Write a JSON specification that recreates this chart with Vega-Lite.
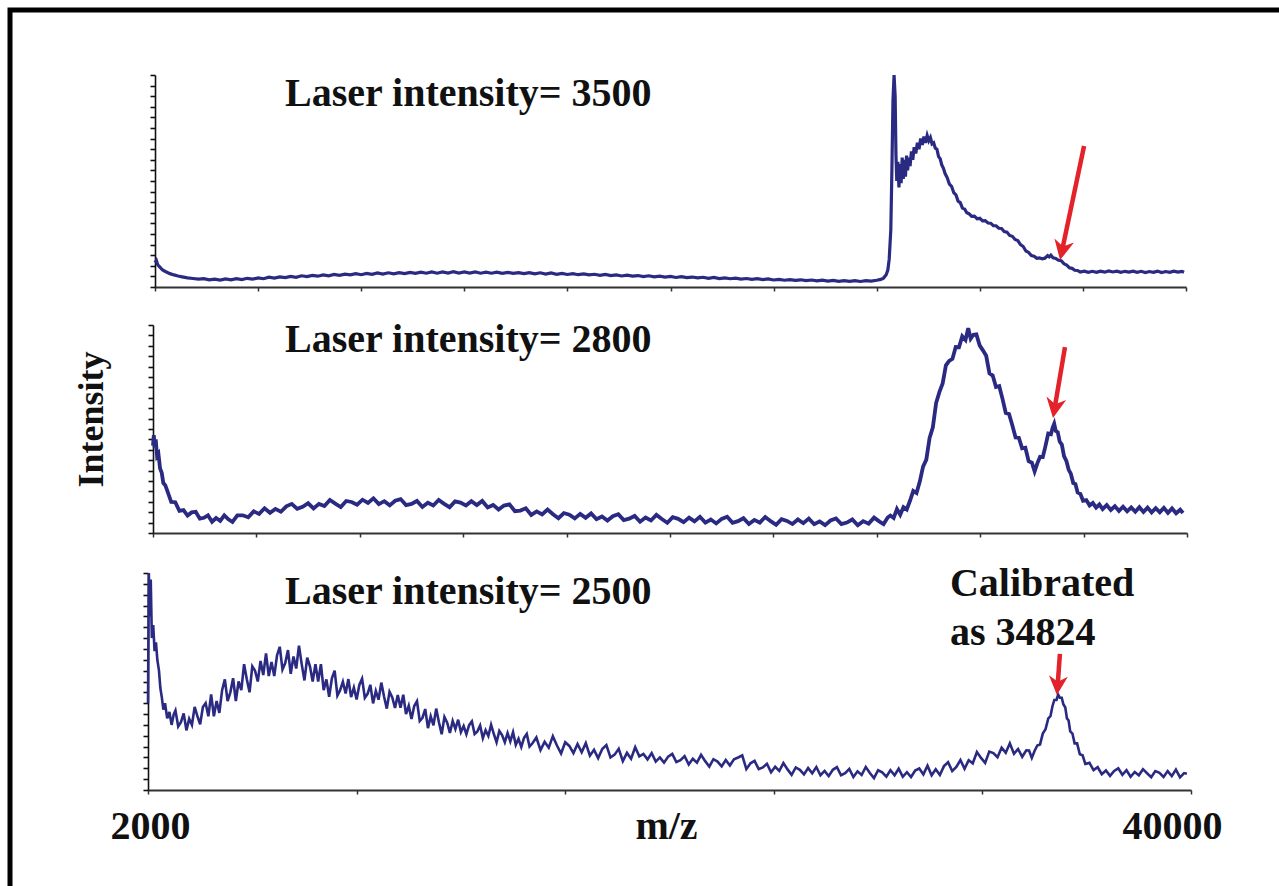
{
"$schema": "https://vega.github.io/schema/vega-lite/v6.json",
"width": 1272,
"height": 879,
"autosize": {"type": "none"},
"padding": {"left": 10, "top": 10, "right": -3, "bottom": -3},
"background": "white",
"config": {
  "view": {"stroke": "black", "strokeWidth": 5},
  "axis": {"grid": false, "labelFont": "Liberation Serif", "titleFont": "Liberation Serif"}
},
"datasets": {
"s1": [
{"mz":2000,"i":11.5},{"mz":2050,"i":12.5},{"mz":2100,"i":10.5},{"mz":2180,"i":9.4},{"mz":2280,"i":8.0},{"mz":2400,"i":7.2},{"mz":2550,"i":6.3},{"mz":2700,"i":5.7},{"mz":2850,"i":5.2},{"mz":3000,"i":4.8},{"mz":3200,"i":4.3},{"mz":3400,"i":4.0},{"mz":3600,"i":3.7},{"mz":3800,"i":3.9},{"mz":4000,"i":3.4},{"mz":4200,"i":3.7},{"mz":4400,"i":3.3},{"mz":4600,"i":3.8},{"mz":4800,"i":3.4},{"mz":5000,"i":3.9},{"mz":5200,"i":3.5},{"mz":5400,"i":4.1},{"mz":5600,"i":3.7},{"mz":5800,"i":4.3},{"mz":6000,"i":3.9},{"mz":6200,"i":4.6},{"mz":6400,"i":4.2},{"mz":6600,"i":4.8},{"mz":6800,"i":4.4},{"mz":7000,"i":5.0},{"mz":7200,"i":4.6},{"mz":7400,"i":5.3},{"mz":7600,"i":4.9},{"mz":7800,"i":5.5},{"mz":8000,"i":5.1},{"mz":8200,"i":5.7},{"mz":8400,"i":5.3},{"mz":8600,"i":5.9},{"mz":8800,"i":5.5},{"mz":9000,"i":6.1},{"mz":9200,"i":5.7},{"mz":9400,"i":6.3},{"mz":9600,"i":5.8},{"mz":9800,"i":6.4},{"mz":10000,"i":6.0},{"mz":10200,"i":6.6},{"mz":10400,"i":6.1},{"mz":10600,"i":6.7},{"mz":10800,"i":6.2},{"mz":11000,"i":6.8},{"mz":11200,"i":6.3},{"mz":11400,"i":6.9},{"mz":11600,"i":6.4},{"mz":11800,"i":7.0},{"mz":12000,"i":6.5},{"mz":12200,"i":7.1},{"mz":12400,"i":6.5},{"mz":12600,"i":7.1},{"mz":12800,"i":6.6},{"mz":13000,"i":7.2},{"mz":13200,"i":6.6},{"mz":13400,"i":7.1},{"mz":13600,"i":6.6},{"mz":13800,"i":7.1},{"mz":14000,"i":6.5},{"mz":14200,"i":7.0},{"mz":14400,"i":6.5},{"mz":14600,"i":7.0},{"mz":14800,"i":6.4},{"mz":15000,"i":6.9},{"mz":15200,"i":6.4},{"mz":15400,"i":6.8},{"mz":15600,"i":6.3},{"mz":15800,"i":6.8},{"mz":16000,"i":6.2},{"mz":16200,"i":6.7},{"mz":16400,"i":6.1},{"mz":16600,"i":6.6},{"mz":16800,"i":6.0},{"mz":17000,"i":6.4},{"mz":17200,"i":5.9},{"mz":17400,"i":6.3},{"mz":17600,"i":5.8},{"mz":17800,"i":6.2},{"mz":18000,"i":5.7},{"mz":18200,"i":6.0},{"mz":18400,"i":5.5},{"mz":18600,"i":5.9},{"mz":18800,"i":5.4},{"mz":19000,"i":5.7},{"mz":19200,"i":5.2},{"mz":19400,"i":5.6},{"mz":19600,"i":5.1},{"mz":19800,"i":5.4},{"mz":20000,"i":4.9},{"mz":20200,"i":5.3},{"mz":20400,"i":4.8},{"mz":20600,"i":5.1},{"mz":20800,"i":4.7},{"mz":21000,"i":5.0},{"mz":21200,"i":4.5},{"mz":21400,"i":4.9},{"mz":21600,"i":4.4},{"mz":21800,"i":4.7},{"mz":22000,"i":4.3},{"mz":22200,"i":4.6},{"mz":22400,"i":4.1},{"mz":22600,"i":4.5},{"mz":22800,"i":4.0},{"mz":23000,"i":4.3},{"mz":23200,"i":3.9},{"mz":23400,"i":4.2},{"mz":23600,"i":3.7},{"mz":23800,"i":4.0},{"mz":24000,"i":3.6},{"mz":24200,"i":3.9},{"mz":24400,"i":3.5},{"mz":24600,"i":3.8},{"mz":24800,"i":3.3},{"mz":25000,"i":3.6},{"mz":25200,"i":3.2},{"mz":25400,"i":3.5},{"mz":25600,"i":3.1},{"mz":25800,"i":3.4},{"mz":26000,"i":3.0},{"mz":26200,"i":3.3},{"mz":26400,"i":2.9},{"mz":26600,"i":3.2},{"mz":26800,"i":2.8},{"mz":27000,"i":3.1},{"mz":27200,"i":2.7},{"mz":27400,"i":3.0},{"mz":27600,"i":2.7},{"mz":27800,"i":3.0},{"mz":28000,"i":2.6},{"mz":28200,"i":3.0},{"mz":28400,"i":2.8},{"mz":28600,"i":3.2},{"mz":28750,"i":3.6},{"mz":28850,"i":4.2},{"mz":28950,"i":5.8},{"mz":29010,"i":8},{"mz":29060,"i":13},{"mz":29120,"i":27},{"mz":29160,"i":55},{"mz":29200,"i":88},{"mz":29240,"i":100},{"mz":29280,"i":90},{"mz":29310,"i":62},{"mz":29340,"i":50},{"mz":29380,"i":59},{"mz":29420,"i":47},{"mz":29460,"i":58},{"mz":29500,"i":49},{"mz":29540,"i":61},{"mz":29580,"i":51},{"mz":29620,"i":60},{"mz":29660,"i":52},{"mz":29700,"i":62},{"mz":29740,"i":55},{"mz":29780,"i":61},{"mz":29830,"i":57},{"mz":29880,"i":64},{"mz":29930,"i":60},{"mz":29980,"i":66},{"mz":30040,"i":63},{"mz":30100,"i":68},{"mz":30160,"i":65},{"mz":30220,"i":70},{"mz":30280,"i":67},{"mz":30340,"i":71},{"mz":30400,"i":68},{"mz":30460,"i":71.5},{"mz":30520,"i":69},{"mz":30580,"i":70.5},{"mz":30640,"i":67.5},{"mz":30700,"i":68},{"mz":30760,"i":65.5},{"mz":30820,"i":65},{"mz":30880,"i":61.5},{"mz":30940,"i":60.5},{"mz":31000,"i":57.5},{"mz":31060,"i":56},{"mz":31120,"i":53.5},{"mz":31200,"i":51.5},{"mz":31280,"i":48.5},{"mz":31360,"i":47.5},{"mz":31440,"i":44.5},{"mz":31520,"i":43.5},{"mz":31600,"i":40.5},{"mz":31680,"i":39.8},{"mz":31760,"i":37.2},{"mz":31840,"i":36.8},{"mz":31920,"i":35},{"mz":32000,"i":34.6},{"mz":32100,"i":33.3},{"mz":32200,"i":33.4},{"mz":32300,"i":32.2},{"mz":32400,"i":32.4},{"mz":32500,"i":31.2},{"mz":32600,"i":31.3},{"mz":32700,"i":30.2},{"mz":32800,"i":30.1},{"mz":32900,"i":28.9},{"mz":33000,"i":28.9},{"mz":33100,"i":27.7},{"mz":33200,"i":27.6},{"mz":33300,"i":26.2},{"mz":33400,"i":25.9},{"mz":33500,"i":24.3},{"mz":33600,"i":23.9},{"mz":33700,"i":22.4},{"mz":33800,"i":21.9},{"mz":33900,"i":20},{"mz":34000,"i":19.1},{"mz":34100,"i":17},{"mz":34200,"i":16.3},{"mz":34300,"i":14.8},{"mz":34400,"i":14.5},{"mz":34500,"i":13.5},{"mz":34600,"i":13.7},{"mz":34700,"i":13.3},{"mz":34800,"i":13.6},{"mz":34900,"i":14.8},{"mz":34960,"i":14.2},{"mz":35020,"i":15.0},{"mz":35100,"i":13.8},{"mz":35200,"i":13.5},{"mz":35300,"i":12.6},{"mz":35400,"i":12.4},{"mz":35500,"i":11.0},{"mz":35600,"i":10.4},{"mz":35700,"i":9.1},{"mz":35800,"i":8.8},{"mz":35900,"i":7.9},{"mz":36000,"i":7.8},{"mz":36100,"i":7.1},{"mz":36250,"i":7.5},{"mz":36400,"i":6.9},{"mz":36550,"i":7.4},{"mz":36700,"i":6.9},{"mz":36850,"i":7.5},{"mz":37000,"i":7.0},{"mz":37150,"i":7.6},{"mz":37300,"i":7.1},{"mz":37450,"i":7.5},{"mz":37600,"i":6.9},{"mz":37750,"i":7.4},{"mz":37900,"i":7.0},{"mz":38050,"i":7.5},{"mz":38200,"i":6.9},{"mz":38350,"i":7.4},{"mz":38500,"i":6.8},{"mz":38650,"i":7.3},{"mz":38800,"i":6.9},{"mz":38950,"i":7.5},{"mz":39100,"i":6.8},{"mz":39250,"i":7.3},{"mz":39400,"i":6.9},{"mz":39550,"i":7.5},{"mz":39700,"i":7.0},{"mz":39850,"i":7.4},{"mz":39930,"i":7.0}
],
"s2": [
{"mz":2000,"i":42},{"mz":2030,"i":47},{"mz":2060,"i":41},{"mz":2100,"i":45},{"mz":2150,"i":37},{"mz":2200,"i":38},{"mz":2260,"i":31},{"mz":2320,"i":29},{"mz":2380,"i":24},{"mz":2450,"i":23},{"mz":2520,"i":20.5},{"mz":2670,"i":14.9},{"mz":2820,"i":14.8},{"mz":2970,"i":10.6},{"mz":3120,"i":11},{"mz":3270,"i":8.4},{"mz":3420,"i":9.9},{"mz":3570,"i":10.2},{"mz":3720,"i":6.9},{"mz":3870,"i":7.3},{"mz":4020,"i":8.5},{"mz":4170,"i":5.4},{"mz":4320,"i":7.2},{"mz":4470,"i":5.8},{"mz":4620,"i":8.5},{"mz":4770,"i":6.6},{"mz":4920,"i":5.3},{"mz":5100,"i":8.5},{"mz":5300,"i":8.5},{"mz":5500,"i":7.6},{"mz":5700,"i":10.4},{"mz":5900,"i":9.2},{"mz":6100,"i":11.9},{"mz":6300,"i":9.7},{"mz":6500,"i":11.6},{"mz":6700,"i":10.2},{"mz":6900,"i":12.8},{"mz":7100,"i":14},{"mz":7300,"i":11.6},{"mz":7500,"i":12.6},{"mz":7700,"i":14.3},{"mz":7900,"i":11.8},{"mz":8100,"i":14},{"mz":8300,"i":13},{"mz":8500,"i":15.9},{"mz":8700,"i":14.1},{"mz":8900,"i":12.5},{"mz":9100,"i":15.4},{"mz":9300,"i":14.9},{"mz":9500,"i":13.6},{"mz":9700,"i":16},{"mz":9900,"i":14.5},{"mz":10100,"i":16.7},{"mz":10300,"i":13.9},{"mz":10500,"i":15.3},{"mz":10700,"i":13.3},{"mz":10900,"i":15.5},{"mz":11100,"i":16.3},{"mz":11300,"i":13.4},{"mz":11500,"i":14},{"mz":11700,"i":15.4},{"mz":11900,"i":12.5},{"mz":12100,"i":14.5},{"mz":12300,"i":13.2},{"mz":12500,"i":15.9},{"mz":12700,"i":14},{"mz":12900,"i":12.4},{"mz":13100,"i":15.2},{"mz":13300,"i":14.6},{"mz":13500,"i":13.2},{"mz":13700,"i":15.3},{"mz":13900,"i":13.4},{"mz":14100,"i":15.4},{"mz":14300,"i":12.3},{"mz":14500,"i":13.5},{"mz":14700,"i":11.3},{"mz":14900,"i":13.2},{"mz":15100,"i":13.8},{"mz":15300,"i":10.5},{"mz":15500,"i":10.8},{"mz":15700,"i":11.9},{"mz":15900,"i":8.7},{"mz":16100,"i":10.4},{"mz":16300,"i":8.9},{"mz":16500,"i":11.3},{"mz":16700,"i":9},{"mz":16900,"i":7.1},{"mz":17100,"i":9.6},{"mz":17300,"i":8.8},{"mz":17500,"i":7},{"mz":17700,"i":9.2},{"mz":17900,"i":7.3},{"mz":18100,"i":9.4},{"mz":18300,"i":6.6},{"mz":18500,"i":7.9},{"mz":18700,"i":6},{"mz":18900,"i":8.1},{"mz":19100,"i":9},{"mz":19300,"i":6.2},{"mz":19500,"i":6.9},{"mz":19700,"i":8.2},{"mz":19900,"i":5.4},{"mz":20100,"i":7.4},{"mz":20300,"i":6},{"mz":20500,"i":8.7},{"mz":20700,"i":6.7},{"mz":20900,"i":4.9},{"mz":21100,"i":7.6},{"mz":21300,"i":6.8},{"mz":21500,"i":5.2},{"mz":21700,"i":7.4},{"mz":21900,"i":5.6},{"mz":22100,"i":7.8},{"mz":22300,"i":5},{"mz":22500,"i":6.5},{"mz":22700,"i":4.6},{"mz":22900,"i":6.8},{"mz":23100,"i":7.8},{"mz":23300,"i":4.9},{"mz":23500,"i":5.7},{"mz":23700,"i":7.1},{"mz":23900,"i":4.3},{"mz":24100,"i":6.3},{"mz":24300,"i":5},{"mz":24500,"i":7.7},{"mz":24700,"i":5.7},{"mz":24900,"i":3.9},{"mz":25100,"i":6.6},{"mz":25300,"i":5.8},{"mz":25500,"i":4.3},{"mz":25700,"i":6.5},{"mz":25900,"i":4.7},{"mz":26100,"i":6.9},{"mz":26300,"i":4.2},{"mz":26500,"i":5.6},{"mz":26700,"i":3.8},{"mz":26900,"i":6},{"mz":27100,"i":7},{"mz":27300,"i":4.3},{"mz":27500,"i":5},{"mz":27700,"i":6.5},{"mz":27900,"i":3.7},{"mz":28100,"i":5.7},{"mz":28300,"i":4.5},{"mz":28500,"i":7.4},{"mz":28700,"i":5.5},{"mz":28850,"i":4.3},{"mz":29000,"i":7.4},{"mz":29100,"i":8.4},{"mz":29220,"i":7.2},{"mz":29340,"i":11.5},{"mz":29460,"i":8.8},{"mz":29580,"i":12.4},{"mz":29700,"i":11.3},{"mz":29820,"i":15.5},{"mz":29940,"i":20.2},{"mz":30060,"i":19.2},{"mz":30180,"i":24.7},{"mz":30300,"i":31.9},{"mz":30420,"i":35.3},{"mz":30540,"i":45.7},{"mz":30660,"i":50.8},{"mz":30780,"i":62.5},{"mz":30900,"i":67.7},{"mz":31020,"i":71.9},{"mz":31140,"i":80.6},{"mz":31260,"i":82.7},{"mz":31380,"i":83.7},{"mz":31500,"i":89.4},{"mz":31620,"i":89.3},{"mz":31740,"i":94.6},{"mz":31860,"i":92.8},{"mz":31960,"i":98.5},{"mz":32050,"i":93.4},{"mz":32150,"i":95.3},{"mz":32260,"i":95.5},{"mz":32380,"i":90.2},{"mz":32500,"i":87.8},{"mz":32620,"i":85.2},{"mz":32740,"i":76.7},{"mz":32860,"i":75.7},{"mz":32980,"i":70.2},{"mz":33100,"i":70.6},{"mz":33220,"i":64.5},{"mz":33340,"i":57.7},{"mz":33460,"i":57.2},{"mz":33580,"i":51.8},{"mz":33700,"i":45.9},{"mz":33820,"i":45.8},{"mz":33940,"i":40.7},{"mz":34060,"i":41},{"mz":34180,"i":34.5},{"mz":34300,"i":33.8},{"mz":34400,"i":29.6},{"mz":34500,"i":33.5},{"mz":34600,"i":36.6},{"mz":34700,"i":36.5},{"mz":34800,"i":41.9},{"mz":34900,"i":47.8},{"mz":35000,"i":47.5},{"mz":35060,"i":50.5},{"mz":35120,"i":52.5},{"mz":35180,"i":49},{"mz":35250,"i":48.5},{"mz":35320,"i":44},{"mz":35400,"i":42.5},{"mz":35480,"i":37},{"mz":35570,"i":34.5},{"mz":35650,"i":30.5},{"mz":35730,"i":28.5},{"mz":35820,"i":24},{"mz":35900,"i":23.5},{"mz":35980,"i":19.5},{"mz":36080,"i":18.8},{"mz":36180,"i":15.5},{"mz":36300,"i":15.8},{"mz":36420,"i":13.2},{"mz":36540,"i":14.4},{"mz":36660,"i":12.2},{"mz":36780,"i":13.7},{"mz":36900,"i":11.5},{"mz":37050,"i":13.4},{"mz":37200,"i":11.1},{"mz":37350,"i":12.9},{"mz":37500,"i":10.6},{"mz":37650,"i":12.6},{"mz":37800,"i":10.4},{"mz":37950,"i":12.3},{"mz":38100,"i":10.2},{"mz":38250,"i":12.4},{"mz":38400,"i":10.1},{"mz":38550,"i":12.2},{"mz":38700,"i":9.9},{"mz":38850,"i":11.9},{"mz":39000,"i":10},{"mz":39150,"i":12.1},{"mz":39300,"i":9.7},{"mz":39450,"i":11.8},{"mz":39600,"i":9.5},{"mz":39750,"i":11.2},{"mz":39853,"i":9.6}
],
"s3": [
{"mz":2000,"i":40},{"mz":2030,"i":100},{"mz":2070,"i":80},{"mz":2100,"i":97},{"mz":2140,"i":70},{"mz":2190,"i":76},{"mz":2240,"i":64},{"mz":2290,"i":68},{"mz":2340,"i":60},{"mz":2400,"i":55},{"mz":2450,"i":47},{"mz":2500,"i":43},{"mz":2560,"i":37},{"mz":2620,"i":40},{"mz":2700,"i":33},{"mz":2780,"i":36},{"mz":2860,"i":30},{"mz":2940,"i":35},{"mz":3000,"i":36.7},{"mz":3100,"i":29.3},{"mz":3200,"i":31.3},{"mz":3300,"i":35.3},{"mz":3400,"i":27.5},{"mz":3500,"i":32.8},{"mz":3600,"i":30},{"mz":3700,"i":38.3},{"mz":3800,"i":34},{"mz":3900,"i":30.3},{"mz":4000,"i":38.2},{"mz":4100,"i":40},{"mz":4200,"i":34},{"mz":4300,"i":44},{"mz":4400,"i":34},{"mz":4500,"i":41},{"mz":4600,"i":35.5},{"mz":4700,"i":46},{"mz":4800,"i":51},{"mz":4900,"i":41},{"mz":5000,"i":45},{"mz":5100,"i":51.5},{"mz":5200,"i":41},{"mz":5300,"i":50},{"mz":5400,"i":46},{"mz":5500,"i":58},{"mz":5600,"i":51},{"mz":5700,"i":45},{"mz":5800,"i":57},{"mz":5900,"i":55},{"mz":6000,"i":50},{"mz":6100,"i":59.5},{"mz":6200,"i":53},{"mz":6300,"i":63},{"mz":6400,"i":52.5},{"mz":6500,"i":59},{"mz":6600,"i":52.5},{"mz":6700,"i":62},{"mz":6800,"i":66},{"mz":6900,"i":55.5},{"mz":7000,"i":58.5},{"mz":7100,"i":64.5},{"mz":7200,"i":53.5},{"mz":7300,"i":61.5},{"mz":7400,"i":56},{"mz":7500,"i":66.5},{"mz":7600,"i":58},{"mz":7700,"i":50.5},{"mz":7800,"i":61},{"mz":7900,"i":57},{"mz":8000,"i":50},{"mz":8100,"i":58},{"mz":8200,"i":50},{"mz":8300,"i":58},{"mz":8400,"i":46},{"mz":8500,"i":51},{"mz":8600,"i":43},{"mz":8700,"i":51.5},{"mz":8800,"i":55},{"mz":8900,"i":43.5},{"mz":9000,"i":46},{"mz":9100,"i":49.9},{"mz":9200,"i":44.5},{"mz":9300,"i":51.1},{"mz":9400,"i":42.8},{"mz":9500,"i":47.2},{"mz":9600,"i":41.7},{"mz":9700,"i":48.4},{"mz":9800,"i":51.3},{"mz":9900,"i":42.5},{"mz":10000,"i":44.3},{"mz":10100,"i":48.5},{"mz":10200,"i":39.9},{"mz":10300,"i":45.6},{"mz":10400,"i":41.6},{"mz":10500,"i":49.5},{"mz":10600,"i":43.1},{"mz":10700,"i":37.5},{"mz":10800,"i":45.3},{"mz":10900,"i":42.7},{"mz":11000,"i":37.8},{"mz":11100,"i":43.8},{"mz":11200,"i":37.9},{"mz":11300,"i":43.9},{"mz":11400,"i":35},{"mz":11500,"i":38.8},{"mz":11600,"i":32.7},{"mz":11700,"i":38.7},{"mz":11800,"i":40.9},{"mz":11900,"i":31.8},{"mz":12000,"i":33.3},{"mz":12100,"i":37.3},{"mz":12200,"i":28.5},{"mz":12300,"i":34},{"mz":12400,"i":29.8},{"mz":12500,"i":37.5},{"mz":12600,"i":31.2},{"mz":12700,"i":25.7},{"mz":12800,"i":33.6},{"mz":12900,"i":31},{"mz":13000,"i":26.3},{"mz":13100,"i":31.8},{"mz":13200,"i":28.1},{"mz":13300,"i":32.4},{"mz":13400,"i":26.7},{"mz":13500,"i":29.5},{"mz":13600,"i":25.7},{"mz":13700,"i":29.9},{"mz":13800,"i":31.6},{"mz":13900,"i":25.8},{"mz":14000,"i":27},{"mz":14100,"i":29.7},{"mz":14200,"i":23.9},{"mz":14300,"i":27.6},{"mz":14400,"i":24.9},{"mz":14500,"i":30.1},{"mz":14600,"i":25.8},{"mz":14700,"i":22},{"mz":14800,"i":27.2},{"mz":14900,"i":25.3},{"mz":15000,"i":22},{"mz":15100,"i":26.2},{"mz":15200,"i":22.4},{"mz":15300,"i":26.6},{"mz":15400,"i":20.8},{"mz":15500,"i":23.6},{"mz":15600,"i":19.8},{"mz":15700,"i":24},{"mz":15800,"i":25.8},{"mz":15900,"i":20},{"mz":16000,"i":21.4},{"mz":16150,"i":24.2},{"mz":16300,"i":18.4},{"mz":16450,"i":22.2},{"mz":16600,"i":19.5},{"mz":16750,"i":24.8},{"mz":16900,"i":20.5},{"mz":17050,"i":16.8},{"mz":17200,"i":22},{"mz":17350,"i":20.3},{"mz":17500,"i":17},{"mz":17650,"i":21.2},{"mz":17800,"i":17.4},{"mz":17950,"i":21.6},{"mz":18100,"i":15.8},{"mz":18250,"i":18.5},{"mz":18400,"i":14.7},{"mz":18550,"i":18.9},{"mz":18700,"i":20.7},{"mz":18850,"i":15},{"mz":19000,"i":16.3},{"mz":19150,"i":19},{"mz":19300,"i":13.3},{"mz":19450,"i":17.1},{"mz":19600,"i":14.4},{"mz":19750,"i":19.7},{"mz":19900,"i":15.5},{"mz":20050,"i":16.6},{"mz":20200,"i":14.1},{"mz":20350,"i":17},{"mz":20500,"i":13.1},{"mz":20650,"i":15},{"mz":20800,"i":12.6},{"mz":20950,"i":15.4},{"mz":21100,"i":16.6},{"mz":21250,"i":12.9},{"mz":21400,"i":13.7},{"mz":21550,"i":15.6},{"mz":21700,"i":11.8},{"mz":21850,"i":14.4},{"mz":22000,"i":12.6},{"mz":22150,"i":16.2},{"mz":22300,"i":13.3},{"mz":22450,"i":10.8},{"mz":22600,"i":14.2},{"mz":22750,"i":13.1},{"mz":22900,"i":10.9},{"mz":23050,"i":13.8},{"mz":23200,"i":11.3},{"mz":23350,"i":14.2},{"mz":23500,"i":15},{"mz":23650,"i":16},{"mz":23800,"i":9.6},{"mz":23950,"i":12.3},{"mz":24100,"i":13.4},{"mz":24250,"i":9.6},{"mz":24400,"i":10.4},{"mz":24550,"i":12.1},{"mz":24700,"i":8.2},{"mz":24850,"i":10.7},{"mz":25000,"i":8.8},{"mz":25150,"i":12.4},{"mz":25300,"i":9.5},{"mz":25450,"i":7},{"mz":25600,"i":10.4},{"mz":25750,"i":9.3},{"mz":25900,"i":7.2},{"mz":26050,"i":10.1},{"mz":26200,"i":7.7},{"mz":26350,"i":10.6},{"mz":26500,"i":6.8},{"mz":26650,"i":8.8},{"mz":26800,"i":6.4},{"mz":26950,"i":9.3},{"mz":27100,"i":10.5},{"mz":27250,"i":6.8},{"mz":27400,"i":7.8},{"mz":27550,"i":9.7},{"mz":27700,"i":6},{"mz":27850,"i":8.6},{"mz":28000,"i":6.9},{"mz":28150,"i":10.6},{"mz":28300,"i":7.8},{"mz":28450,"i":5.5},{"mz":28600,"i":9.1},{"mz":28750,"i":8.1},{"mz":28900,"i":6.1},{"mz":29050,"i":9.1},{"mz":29200,"i":6.8},{"mz":29350,"i":9.8},{"mz":29500,"i":6.1},{"mz":29650,"i":8.2},{"mz":29800,"i":6},{"mz":29950,"i":9},{"mz":30100,"i":9.9},{"mz":30250,"i":7.2},{"mz":30400,"i":11.2},{"mz":30550,"i":6.8},{"mz":30700,"i":9.6},{"mz":30850,"i":6.9},{"mz":31000,"i":11},{"mz":31150,"i":12.8},{"mz":31300,"i":8.7},{"mz":31450,"i":10.6},{"mz":31600,"i":13.8},{"mz":31750,"i":9.8},{"mz":31900,"i":13.7},{"mz":32050,"i":12.3},{"mz":32200,"i":17.5},{"mz":32350,"i":14.8},{"mz":32500,"i":12.5},{"mz":32650,"i":17.7},{"mz":32800,"i":17},{"mz":32950,"i":15.1},{"mz":33100,"i":19.5},{"mz":33250,"i":17.2},{"mz":33400,"i":21.5},{"mz":33550,"i":16.7},{"mz":33700,"i":18.9},{"mz":33850,"i":15.3},{"mz":34000,"i":18.3},{"mz":34100,"i":18.2},{"mz":34200,"i":14.8},{"mz":34300,"i":18},{"mz":34400,"i":20.5},{"mz":34500,"i":21},{"mz":34600,"i":26},{"mz":34700,"i":28},{"mz":34800,"i":33},{"mz":34880,"i":34},{"mz":34950,"i":38.5},{"mz":35020,"i":41.5},{"mz":35100,"i":41.5},{"mz":35160,"i":44},{"mz":35224,"i":42.5},{"mz":35290,"i":42.5},{"mz":35350,"i":39.5},{"mz":35420,"i":38},{"mz":35480,"i":33},{"mz":35540,"i":32},{"mz":35600,"i":27},{"mz":35680,"i":26},{"mz":35760,"i":21.5},{"mz":35850,"i":21.5},{"mz":35950,"i":16.5},{"mz":36050,"i":16},{"mz":36150,"i":12},{"mz":36300,"i":12.5},{"mz":36450,"i":9.2},{"mz":36600,"i":10.5},{"mz":36750,"i":7.3},{"mz":36900,"i":9},{"mz":37050,"i":6.5},{"mz":37200,"i":8.8},{"mz":37350,"i":10},{"mz":37500,"i":7},{"mz":37650,"i":9.1},{"mz":37800,"i":6.1},{"mz":37950,"i":8.3},{"mz":38100,"i":6.8},{"mz":38250,"i":9.6},{"mz":38400,"i":7.7},{"mz":38550,"i":5.9},{"mz":38700,"i":8.7},{"mz":38850,"i":7.9},{"mz":39000,"i":6},{"mz":39150,"i":8.7},{"mz":39300,"i":6.4},{"mz":39450,"i":9.4},{"mz":39600,"i":5.8},{"mz":39750,"i":7.8},{"mz":39850,"i":7.5}
]
},
"layer": [
{
  "encoding": {
    "x": {"field": "mz", "type": "quantitative", "scale": {"domain": [2000, 40000], "range": [145, 1176], "nice": false, "zero": false},
      "axis": {"orient": "bottom", "offset": -602, "values": [2000,5800,9600,13400,17200,21000,24800,28600,32400,36200,40000], "labels": false, "tickSize": 4, "tickWidth": 1.5, "domainWidth": 2, "domainColor": "#333", "tickColor": "#333", "title": null}},
    "y": {"field": "i", "type": "quantitative", "scale": {"domain": [0, 100], "range": [277, 65], "nice": false},
      "axis": {"orient": "left", "offset": -145, "values": [0,5,10,15,20,25,30,35,40,45,50,55,60,65,70,75,80,85,90,95,100], "labels": false, "tickSize": 5, "tickWidth": 1.6, "domainWidth": 1.6, "domainColor": "#111", "tickColor": "#111", "title": null}}
  },
  "layer": [
    {"data": {"name": "s1"}, "mark": {"type": "line", "color": "#2a2a82", "strokeWidth": 3.2}},
    {"data": {"values": [{"mz": 6792, "i": 85.4, "label": "Laser intensity= 3500"}]},
     "mark": {"type": "text", "font": "Liberation Serif", "fontWeight": "bold", "fontSize": 40, "align": "left", "baseline": "alphabetic", "color": "#111"},
     "encoding": {"text": {"field": "label"}}},
    {"data": {"values": [{"mz": 35358, "i": 12.7, "bmz": 35450, "bi": 18.3, "tmz": 36243, "ti": 66.5}]},
     "mark": {"type": "rule", "color": "#e3222a", "strokeWidth": 4.5},
     "encoding": {"x": {"field": "tmz", "type": "quantitative"}, "y": {"field": "ti", "type": "quantitative"}, "x2": {"field": "bmz"}, "y2": {"field": "bi"}}},
    {"data": {"values": [{"mz": 35358, "i": 12.7}]},
     "mark": {"type": "point", "shape": "M0,0 L-1,-2 L0,-1.4 L1,-2 Z", "size": 400, "filled": true, "color": "#e3222a", "opacity": 1, "angle": 12}}
  ]
},
{
  "encoding": {
    "x": {"field": "mz", "type": "quantitative", "scale": {"domain": [2000, 40000], "range": [143, 1177], "nice": false, "zero": false},
      "axis": {"orient": "bottom", "offset": -356, "values": [2000,5800,9600,13400,17200,21000,24800,28600,32400,36200,40000], "labels": false, "tickSize": 4, "tickWidth": 1.5, "domainWidth": 2, "domainColor": "#333", "tickColor": "#333", "title": null}},
    "y": {"field": "i", "type": "quantitative", "scale": {"domain": [0, 100], "range": [523, 315], "nice": false},
      "axis": {"orient": "left", "offset": -143, "values": [0,5,10,15,20,25,30,35,40,45,50,55,60,65,70,75,80,85,90,95,100], "labels": false, "tickSize": 5, "tickWidth": 1.6, "domainWidth": 1.6, "domainColor": "#111", "tickColor": "#111",
        "title": "Intensity", "titleFont": "Liberation Serif", "titleFontWeight": "bold", "titleFontSize": 36, "titleColor": "#111", "titleAngle": 270, "titleBaseline": "alphabetic", "titleAlign": "center", "titleX": -51, "titleY": 409}}
  },
  "layer": [
    {"data": {"name": "s2"}, "mark": {"type": "line", "color": "#2a2a82", "strokeWidth": 3.8}},
    {"data": {"values": [{"mz": 6851, "i": 87.0, "label": "Laser intensity= 2800"}]},
     "mark": {"type": "text", "font": "Liberation Serif", "fontWeight": "bold", "fontSize": 40, "align": "left", "baseline": "alphabetic", "color": "#111"},
     "encoding": {"text": {"field": "label"}}},
    {"data": {"values": [{"mz": 35075, "i": 55.3, "bmz": 35148, "bi": 61.0, "tmz": 35516, "ti": 89.4}]},
     "mark": {"type": "rule", "color": "#e3222a", "strokeWidth": 4.5},
     "encoding": {"x": {"field": "tmz", "type": "quantitative"}, "y": {"field": "ti", "type": "quantitative"}, "x2": {"field": "bmz"}, "y2": {"field": "bi"}}},
    {"data": {"values": [{"mz": 35075, "i": 55.3}]},
     "mark": {"type": "point", "shape": "M0,0 L-1,-2 L0,-1.4 L1,-2 Z", "size": 400, "filled": true, "color": "#e3222a", "opacity": 1, "angle": 9.5}}
  ]
},
{
  "encoding": {
    "x": {"field": "mz", "type": "quantitative", "scale": {"domain": [2000, 40000], "range": [138, 1181], "nice": false, "zero": false},
      "axis": {"orient": "bottom", "offset": -99, "values": [2000,9600,17200,24800,32400,40000], "format": "d",
        "labelExpr": "datum.value == 2000 || datum.value == 40000 ? datum.label : ''",
        "labelFont": "Liberation Serif", "labelFontWeight": "bold", "labelFontSize": 40, "labelColor": "#111", "labelPadding": 12,
        "labelOffset": {"condition": {"test": "datum.value == 40000", "value": -19}, "value": 2},
        "labelOverlap": false, "labelFlush": false, "labelBound": false,
        "tickSize": 4, "tickWidth": 1.5, "domainWidth": 2, "domainColor": "#333", "tickColor": "#333",
        "title": "m/z", "titleFont": "Liberation Serif", "titleFontWeight": "bold", "titleFontSize": 40, "titleColor": "#111", "titleBaseline": "alphabetic", "titleY": 48, "titleX": 656}},
    "y": {"field": "i", "type": "quantitative", "scale": {"domain": [0, 100], "range": [780, 563], "nice": false},
      "axis": {"orient": "left", "offset": -138, "values": [0,5,10,15,20,25,30,35,40,45,50,55,60,65,70,75,80,85,90,95,100], "labels": false, "tickSize": 5, "tickWidth": 1.6, "domainWidth": 1.6, "domainColor": "#111", "tickColor": "#111", "title": null}}
  },
  "layer": [
    {"data": {"name": "s3"}, "mark": {"type": "line", "color": "#2a2a82", "strokeWidth": 2.6}},
    {"data": {"values": [{"mz": 6991, "i": 85.7, "label": "Laser intensity= 2500"}, {"mz": 31217, "i": 89.4, "label": "Calibrated"}, {"mz": 31217, "i": 66.8, "label": "as 34824"}]},
     "mark": {"type": "text", "font": "Liberation Serif", "fontWeight": "bold", "fontSize": 40, "align": "left", "baseline": "alphabetic", "color": "#111"},
     "encoding": {"text": {"field": "label"}}},
    {"data": {"values": [{"mz": 35115, "i": 43.8, "bmz": 35148, "bi": 49.3, "tmz": 35224, "ti": 62.7}]},
     "mark": {"type": "rule", "color": "#e3222a", "strokeWidth": 4.5},
     "encoding": {"x": {"field": "tmz", "type": "quantitative"}, "y": {"field": "ti", "type": "quantitative"}, "x2": {"field": "bmz"}, "y2": {"field": "bi"}}},
    {"data": {"values": [{"mz": 35115, "i": 43.8}]},
     "mark": {"type": "point", "shape": "M0,0 L-1,-2 L0,-1.4 L1,-2 Z", "size": 360, "filled": true, "color": "#e3222a", "opacity": 1, "angle": 4.5}}
  ]
}
],
"resolve": {"scale": {"x": "independent", "y": "independent"}, "axis": {"x": "independent", "y": "independent"}}
}
